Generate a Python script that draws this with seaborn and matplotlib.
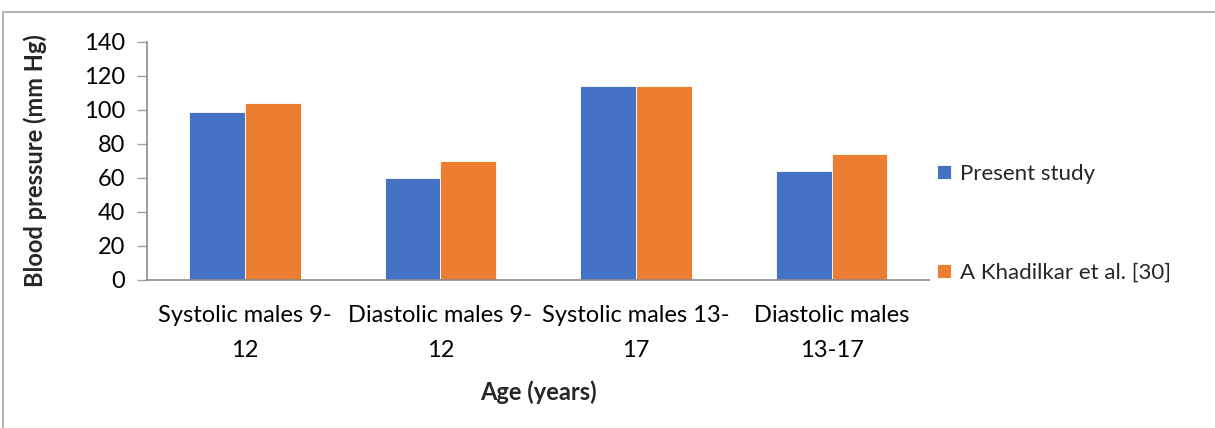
import matplotlib
matplotlib.use("Agg")
import matplotlib.pyplot as plt
import seaborn as sns
import pandas as pd
from matplotlib.patches import Rectangle

categories = ["Systolic males 9-\n12", "Diastolic males 9-\n12", "Systolic males 13-\n17", "Diastolic males\n13-17"]
present_study = [99, 60, 114, 64]
khadilkar = [104, 70, 114, 74]
series_names = ["Present study", "A Khadilkar et al. [30]"]
colors = ["#4472C4", "#ED7D31"]

df = pd.DataFrame({
    "category": categories * 2,
    "value": present_study + khadilkar,
    "series": [series_names[0]] * 4 + [series_names[1]] * 4,
})

sns.set_theme(style="white")
plt.rcParams["font.family"] = ["Lato", "DejaVu Sans"]

fig = plt.figure(figsize=(12.15, 4.28), dpi=100)
ax = fig.add_axes([0.121, 0.346, 0.644, 0.556])

sns.barplot(data=df, x="category", y="value", hue="series", order=categories,
            hue_order=series_names, palette=colors, width=0.57, gap=0,
            edgecolor="#ffffff", linewidth=0.6, saturation=1, ax=ax)

ax.set_ylim(0, 140)
ax.set_yticks(range(0, 141, 20))
ax.set_xlim(-0.5, 3.5)
ax.tick_params(axis="y", labelsize=17, length=7, width=1, color="#a0a0a0",
               direction="out", left=True, pad=9, labelcolor="black")
ax.tick_params(axis="x", labelsize=17, length=0, pad=18, labelcolor="black")
for lbl in ax.get_xticklabels():
    lbl.set_linespacing(1.8)
for side in ["top", "right"]:
    ax.spines[side].set_visible(False)
for side in ["left", "bottom"]:
    ax.spines[side].set_color("#8c8c8c")
    ax.spines[side].set_linewidth(1.2)

ax.set_xlabel("Age (years)", fontsize=17, fontweight="bold", labelpad=14)
ax.set_ylabel("Blood pressure (mm Hg)", fontsize=17, fontweight="bold", labelpad=26)

handles, labels = ax.get_legend_handles_labels()
ax.legend(handles, labels, loc="upper left", bbox_to_anchor=(0.998, 0.525),
          frameon=False, fontsize=16, handlelength=0.65, handleheight=0.65,
          handletextpad=0.4, labelspacing=3.55, borderaxespad=0)

# outer chart border
fig.patches.append(Rectangle((3 / 1215, -0.05), 1.2, 1 - 12 / 428 + 0.05,
                             transform=fig.transFigure, fill=False,
                             edgecolor="#a6a6a6", linewidth=1.2))

fig.savefig("out.png", dpi=100)
